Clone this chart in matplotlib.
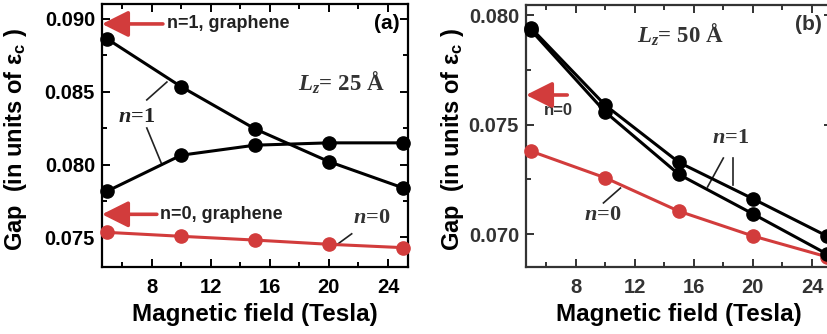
import matplotlib
matplotlib.use("Agg")
import matplotlib.pyplot as plt
from matplotlib.ticker import MultipleLocator

plt.rcParams['font.family'] = ['Liberation Sans', 'DejaVu Sans']
plt.rcParams['font.weight'] = 'bold'
plt.rcParams['mathtext.fontset'] = 'custom'
plt.rcParams['mathtext.rm'] = 'Liberation Sans:bold'
plt.rcParams['mathtext.it'] = 'Liberation Serif:bold:italic'
plt.rcParams['mathtext.bf'] = 'Liberation Serif:bold'

# Magnetic field values (Tesla)
field = [5, 10, 15, 20, 25]

# (a) L_z = 25 A
gap_a_n1_upper = [0.08863, 0.08535, 0.08245, 0.08020, 0.07840]
gap_a_n1_lower = [0.07817, 0.08064, 0.08133, 0.08149, 0.08149]
gap_a_n0 = [0.07534, 0.07507, 0.07481, 0.07452, 0.07429]
graphene_a_n1 = 0.08966
graphene_a_n0 = 0.07658

# (b) L_z = 50 A
gap_b_n1_upper = [0.07940, 0.07589, 0.07327, 0.07161, 0.06991]
gap_b_n1_lower = [0.07930, 0.07558, 0.07272, 0.07092, 0.06909]
gap_b_n0 = [0.07378, 0.07257, 0.07104, 0.06991, 0.06896]
graphene_b_n0 = 0.07635

x_ticks = [8, 12, 16, 20, 24]

RED = '#d23c3c'
BLACK = '#000000'

fig = plt.figure(figsize=(8.28, 3.34), dpi=100)
ax_a = fig.add_axes([102 / 828, 1 - 267 / 334, 306 / 828, 263 / 334])
ax_b = fig.add_axes([526 / 828, 1 - 267.3 / 334, 306 / 828, 262.3 / 334])


def style_axes(ax, ylim, yticks, ycolor):
    ax.set_xlim(4.65, 25.35)
    ax.set_ylim(*ylim)
    ax.set_xticks(x_ticks)
    ax.xaxis.set_minor_locator(MultipleLocator(2))
    ax.set_yticks(yticks)
    ax.yaxis.set_minor_locator(MultipleLocator(0.0025))
    ax.set_yticklabels([f"{v:.3f}" for v in yticks])
    ax.tick_params(which='both', direction='in', top=True, right=True,
                   width=1.4, color=ycolor, labelcolor=ycolor, labelsize=14.5)
    ax.tick_params(which='major', length=6)
    ax.tick_params(which='minor', length=3.5)
    ax.tick_params(axis='x', which='major', pad=8)
    ax.tick_params(axis='y', which='major', pad=5)
    for lab in ax.get_xticklabels() + ax.get_yticklabels():
        lab.set_fontweight('bold')
    for sp in ax.spines.values():
        sp.set_linewidth(1.6)
        sp.set_color(ycolor)
    ax.set_xlabel('Magnetic field (Tesla)', fontsize=17.5, fontweight='bold',
                  color=BLACK, labelpad=4)


line_kw = dict(marker='o', markersize=9.5, linewidth=2.2, clip_on=False)

# ---- panel (a) ----
ax_a.plot(field, gap_a_n0, color=RED, zorder=3, **line_kw)
ax_a.plot(field, gap_a_n1_upper, color=BLACK, zorder=4, **line_kw)
ax_a.plot(field, gap_a_n1_lower, color=BLACK, zorder=4, **line_kw)
style_axes(ax_a, (0.07296, 0.09103), [0.075, 0.080, 0.085, 0.090], BLACK)

arrow_kw = dict(arrowstyle='-|>,head_length=0.8,head_width=0.4',
                color=RED, lw=2.6, mutation_scale=20, shrinkA=0, shrinkB=0)
ax_a.annotate('', xy=(0.0, graphene_a_n1), xycoords=('axes fraction', 'data'),
              xytext=(8.77, graphene_a_n1), textcoords='data',
              arrowprops=arrow_kw, zorder=6)
ax_a.annotate('', xy=(0.0, graphene_a_n0), xycoords=('axes fraction', 'data'),
              xytext=(8.36, graphene_a_n0), textcoords='data',
              arrowprops=arrow_kw, zorder=6)
ax_a.text(9.05, graphene_a_n1, 'n=1, graphene', fontsize=13, fontweight='bold',
          ha='left', va='center', color='#222222')
ax_a.text(8.6, graphene_a_n0, 'n=0, graphene', fontsize=13, fontweight='bold',
          ha='left', va='center', color='#222222')
ax_a.text(0.93, 0.925, '(a)', transform=ax_a.transAxes, fontsize=15,
          fontweight='bold', ha='center', va='center')
ax_a.text(20.86, 0.0856, r'$L_z$= 25 Å', family='Liberation Serif',
          fontsize=16.5, fontweight='bold', ha='center', va='center', color='#333333')
ax_a.text(7.0, 0.08327, r'$n$=1', family='Liberation Serif', fontsize=16,
          fontweight='bold', ha='center', va='center', color='#222222')
ax_a.plot([7.68, 9.04], [0.08444, 0.08567], color='#222222', lw=1.2)
ax_a.plot([7.68, 8.70], [0.08251, 0.0800], color='#222222', lw=1.2)
ax_a.text(22.9, 0.07633, r'$n$=0', family='Liberation Serif', fontsize=16,
          fontweight='bold', ha='center', va='center', color='#333333')
ax_a.plot([20.52, 21.54], [0.07448, 0.07524], color='#222222', lw=1.2)

# ---- panel (b) ----
GREY = '#333333'
ax_b.plot(field, gap_b_n0, color=RED, zorder=3, **line_kw)
ax_b.plot(field, gap_b_n1_lower, color=BLACK, zorder=4, **line_kw)
ax_b.plot(field, gap_b_n1_upper, color=BLACK, zorder=4, **line_kw)
style_axes(ax_b, (0.06848, 0.08046), [0.070, 0.075, 0.080], GREY)

ax_b.annotate('', xy=(0.0, graphene_b_n0), xycoords=('axes fraction', 'data'),
              xytext=(7.44, graphene_b_n0), textcoords='data',
              arrowprops=arrow_kw, zorder=6)
ax_b.text(6.85, 0.07566, 'n=0', fontsize=12, fontweight='bold',
          ha='center', va='center', color=GREY)
ax_b.text(23.75, 0.07959, '(b)', fontsize=15, fontweight='bold',
          ha='center', va='center', color=GREY)
ax_b.text(15.1, 0.07909, r'$L_z$= 50 Å', family='Liberation Serif',
          fontsize=16.5, fontweight='bold', ha='center', va='center', color=GREY)
ax_b.text(18.48, 0.07438, r'$n$=1', family='Liberation Serif', fontsize=16,
          fontweight='bold', ha='center', va='center', color=GREY)
ax_b.plot([18.0, 16.93], [0.07347, 0.07215], color='#222222', lw=1.2)
ax_b.plot([18.62, 18.62], [0.07347, 0.07224], color='#222222', lw=1.2)
ax_b.text(9.83, 0.07087, r'$n$=0', family='Liberation Serif', fontsize=16,
          fontweight='bold', ha='center', va='center', color=GREY)
ax_b.plot([9.89, 11.04], [0.07142, 0.0721], color='#222222', lw=1.2)

# y-axis titles
ylabel = r'Gap  (in units of $\mathrm{\epsilon_{c}}$ )'
fig.text(16 / 828, 1 - 140 / 334, ylabel, rotation=90, fontsize=17,
         fontweight='bold', ha='center', va='center', color=BLACK)
fig.text(453 / 828, 1 - 140 / 334, ylabel, rotation=90, fontsize=17,
         fontweight='bold', ha='center', va='center', color=BLACK)

fig.savefig('out.png', dpi=100)
